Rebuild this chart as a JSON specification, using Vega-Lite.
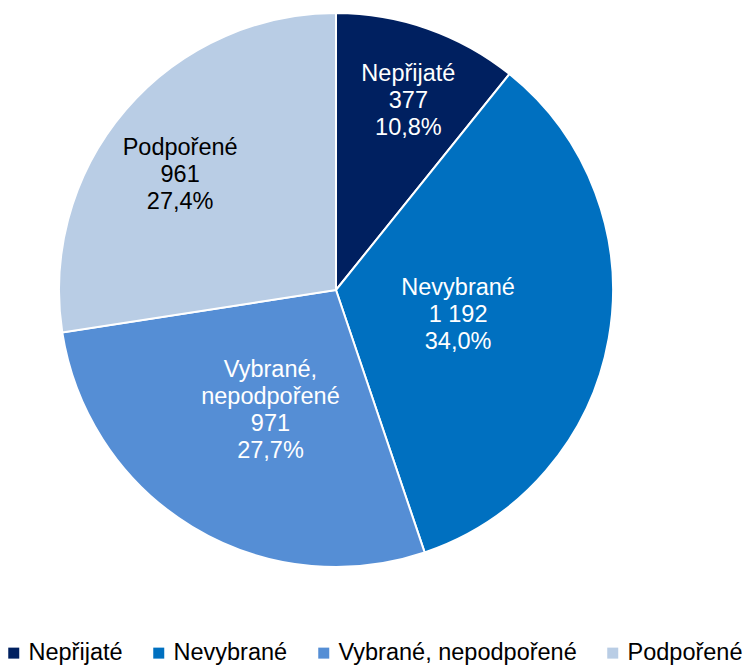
{
  "$schema": "https://vega.github.io/schema/vega-lite/v6.json",
  "width": 672,
  "height": 580,
  "padding": 0,
  "background": "white",
  "config": {"view": {"stroke": null}, "font": "Liberation Sans"},
  "data": {
    "values": [
      {"kategorie": "Nepřijaté", "pocet": 377, "poradi": 1, "popisek": "Nepřijaté\n377\n10,8%"},
      {"kategorie": "Nevybrané", "pocet": 1192, "poradi": 2, "popisek": "Nevybrané\n1 192\n34,0%"},
      {"kategorie": "Vybrané, nepodpořené", "pocet": 971, "poradi": 3, "popisek": "Vybrané,\nnepodpořené\n971\n27,7%"},
      {"kategorie": "Podpořené", "pocet": 961, "poradi": 4, "popisek": "Podpořené\n961\n27,4%"}
    ]
  },
  "encoding": {
    "theta": {"field": "pocet", "type": "quantitative", "stack": true},
    "order": {"field": "poradi", "type": "quantitative"}
  },
  "layer": [
    {
      "mark": {"type": "arc", "outerRadius": 277, "stroke": "white", "strokeWidth": 2},
      "encoding": {
        "color": {
          "field": "kategorie",
          "type": "nominal",
          "sort": ["Nepřijaté", "Nevybrané", "Vybrané, nepodpořené", "Podpořené"],
          "scale": {
            "domain": ["Nepřijaté", "Nevybrané", "Vybrané, nepodpořené", "Podpořené"],
            "range": ["#002060", "#0070c0", "#558ed5", "#b9cde5"]
          },
          "legend": {
            "title": null,
            "orient": "none",
            "direction": "horizontal",
            "legendX": 2,
            "legendY": 641,
            "padding": 0,
            "columns": 4,
            "symbolType": "square",
            "symbolSize": 121,
            "symbolStrokeWidth": 0,
            "labelFont": "Liberation Sans",
            "labelFontSize": 23.5,
            "labelColor": "black",
            "labelOffset": 3,
            "columnPadding": 24,
            "labelLimit": 400
          }
        }
      }
    },
    {
      "mark": {"type": "text", "font": "Liberation Sans", "fontSize": 23.5, "lineBreak": "\n", "lineHeight": 27, "align": "center", "baseline": "middle", "radius": 203, "dx": 5, "dy": -25},
      "encoding": {
        "text": {"field": "popisek", "type": "nominal"},
        "color": {"value": "white"},
        "opacity": {"condition": {"test": "datum.poradi == 1", "value": 1}, "value": 0}
      }
    },
    {
      "mark": {"type": "text", "font": "Liberation Sans", "fontSize": 23.5, "lineBreak": "\n", "lineHeight": 27, "align": "center", "baseline": "middle", "radius": 124, "dy": -24},
      "encoding": {
        "text": {"field": "popisek", "type": "nominal"},
        "color": {"value": "white"},
        "opacity": {"condition": {"test": "datum.poradi == 2", "value": 1}, "value": 0}
      }
    },
    {
      "mark": {"type": "text", "font": "Liberation Sans", "fontSize": 23.5, "lineBreak": "\n", "lineHeight": 27, "align": "center", "baseline": "middle", "radius": 134, "dx": 4, "dy": -35},
      "encoding": {
        "text": {"field": "popisek", "type": "nominal"},
        "color": {"value": "white"},
        "opacity": {"condition": {"test": "datum.poradi == 3", "value": 1}, "value": 0}
      }
    },
    {
      "mark": {"type": "text", "font": "Liberation Sans", "fontSize": 23.5, "lineBreak": "\n", "lineHeight": 27, "align": "center", "baseline": "middle", "radius": 196, "dx": -7, "dy": -14},
      "encoding": {
        "text": {"field": "popisek", "type": "nominal"},
        "color": {"value": "black"},
        "opacity": {"condition": {"test": "datum.poradi == 4", "value": 1}, "value": 0}
      }
    }
  ]
}
